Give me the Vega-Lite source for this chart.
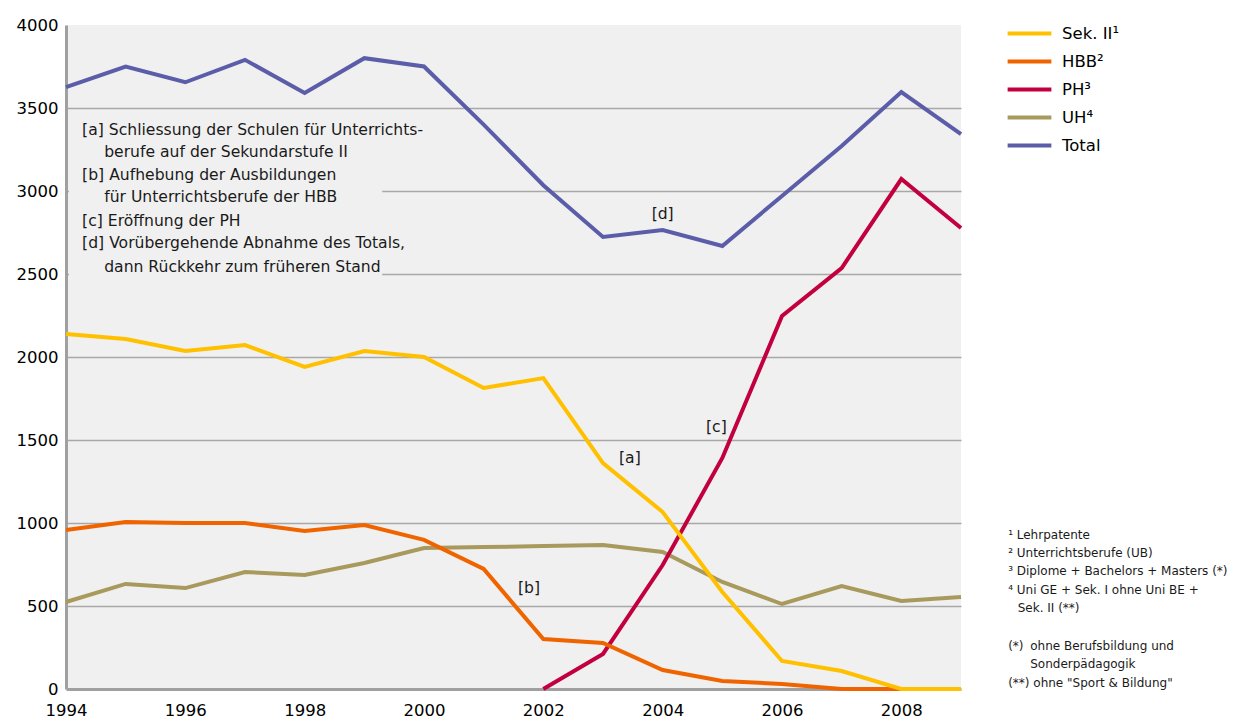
{
  "$schema": "https://vega.github.io/schema/vega-lite/v6.json",
  "width": 895,
  "height": 664,
  "autosize": "none",
  "padding": {"left": 66, "top": 25, "right": 298, "bottom": 31},
  "background": "white",
  "config": {
    "font": "DejaVu Sans",
    "view": {"fill": "#f0f0f0", "stroke": null}
  },
  "datasets": {
    "series": [
      {"year": 1994, "series": "Total", "value": 3626},
      {"year": 1995, "series": "Total", "value": 3750},
      {"year": 1996, "series": "Total", "value": 3655},
      {"year": 1997, "series": "Total", "value": 3790},
      {"year": 1998, "series": "Total", "value": 3590},
      {"year": 1999, "series": "Total", "value": 3800},
      {"year": 2000, "series": "Total", "value": 3750},
      {"year": 2001, "series": "Total", "value": 3400},
      {"year": 2002, "series": "Total", "value": 3035},
      {"year": 2003, "series": "Total", "value": 2723},
      {"year": 2004, "series": "Total", "value": 2765},
      {"year": 2005, "series": "Total", "value": 2669},
      {"year": 2006, "series": "Total", "value": 2970},
      {"year": 2007, "series": "Total", "value": 3271},
      {"year": 2008, "series": "Total", "value": 3596},
      {"year": 2009, "series": "Total", "value": 3343},
      {"year": 1994, "series": "UH⁴", "value": 524},
      {"year": 1995, "series": "UH⁴", "value": 633},
      {"year": 1996, "series": "UH⁴", "value": 608},
      {"year": 1997, "series": "UH⁴", "value": 705},
      {"year": 1998, "series": "UH⁴", "value": 687},
      {"year": 1999, "series": "UH⁴", "value": 759},
      {"year": 2000, "series": "UH⁴", "value": 849},
      {"year": 2001, "series": "UH⁴", "value": 855},
      {"year": 2002, "series": "UH⁴", "value": 861},
      {"year": 2003, "series": "UH⁴", "value": 867},
      {"year": 2004, "series": "UH⁴", "value": 825},
      {"year": 2005, "series": "UH⁴", "value": 645},
      {"year": 2006, "series": "UH⁴", "value": 512},
      {"year": 2007, "series": "UH⁴", "value": 620},
      {"year": 2008, "series": "UH⁴", "value": 530},
      {"year": 2009, "series": "UH⁴", "value": 554},
      {"year": 2002, "series": "PH³", "value": 0},
      {"year": 2003, "series": "PH³", "value": 211},
      {"year": 2004, "series": "PH³", "value": 747},
      {"year": 2005, "series": "PH³", "value": 1392},
      {"year": 2006, "series": "PH³", "value": 2247},
      {"year": 2007, "series": "PH³", "value": 2536},
      {"year": 2008, "series": "PH³", "value": 3072},
      {"year": 2009, "series": "PH³", "value": 2777},
      {"year": 1994, "series": "HBB²", "value": 958},
      {"year": 1995, "series": "HBB²", "value": 1006},
      {"year": 1996, "series": "HBB²", "value": 1000},
      {"year": 1997, "series": "HBB²", "value": 1000},
      {"year": 1998, "series": "HBB²", "value": 952},
      {"year": 1999, "series": "HBB²", "value": 988},
      {"year": 2000, "series": "HBB²", "value": 898},
      {"year": 2001, "series": "HBB²", "value": 723},
      {"year": 2002, "series": "HBB²", "value": 301},
      {"year": 2003, "series": "HBB²", "value": 277},
      {"year": 2004, "series": "HBB²", "value": 114},
      {"year": 2005, "series": "HBB²", "value": 48},
      {"year": 2006, "series": "HBB²", "value": 30},
      {"year": 2007, "series": "HBB²", "value": 0},
      {"year": 2008, "series": "HBB²", "value": 0},
      {"year": 1994, "series": "Sek. II¹", "value": 2139},
      {"year": 1995, "series": "Sek. II¹", "value": 2108},
      {"year": 1996, "series": "Sek. II¹", "value": 2036},
      {"year": 1997, "series": "Sek. II¹", "value": 2072},
      {"year": 1998, "series": "Sek. II¹", "value": 1940},
      {"year": 1999, "series": "Sek. II¹", "value": 2036},
      {"year": 2000, "series": "Sek. II¹", "value": 2000},
      {"year": 2001, "series": "Sek. II¹", "value": 1813},
      {"year": 2002, "series": "Sek. II¹", "value": 1873},
      {"year": 2003, "series": "Sek. II¹", "value": 1361},
      {"year": 2004, "series": "Sek. II¹", "value": 1066},
      {"year": 2005, "series": "Sek. II¹", "value": 584},
      {"year": 2006, "series": "Sek. II¹", "value": 169},
      {"year": 2007, "series": "Sek. II¹", "value": 108},
      {"year": 2008, "series": "Sek. II¹", "value": 0},
      {"year": 2009, "series": "Sek. II¹", "value": 0}
    ],
    "notes": [
      {"x": 1994.27, "y": 3367, "text": "[a] Schliessung der Schulen für Unterrichts-"},
      {"x": 1994.64, "y": 3235, "text": "berufe auf der Sekundarstufe II"},
      {"x": 1994.27, "y": 3096, "text": "[b] Aufhebung der Ausbildungen"},
      {"x": 1994.64, "y": 2964, "text": "für Unterrichtsberufe der HBB"},
      {"x": 1994.27, "y": 2819, "text": "[c] Eröffnung der PH"},
      {"x": 1994.27, "y": 2687, "text": "[d] Vorübergehende Abnahme des Totals,"},
      {"x": 1994.64, "y": 2542, "text": "dann Rückkehr zum früheren Stand"}
    ],
    "marks": [
      {"x": 2004.0, "y": 2860, "text": "[d]"},
      {"x": 2003.45, "y": 1390, "text": "[a]"},
      {"x": 2004.9, "y": 1578, "text": "[c]"},
      {"x": 2001.76, "y": 608, "text": "[b]"}
    ],
    "foot": [
      {"x": 2009.79, "y": 928, "text": "¹ Lehrpatente"},
      {"x": 2009.79, "y": 819, "text": "² Unterrichtsberufe (UB)"},
      {"x": 2009.79, "y": 711, "text": "³ Diplome + Bachelors + Masters (*)"},
      {"x": 2009.79, "y": 596, "text": "⁴ Uni GE + Sek. I ohne Uni BE +"},
      {"x": 2009.95, "y": 488, "text": "Sek. II (**)"},
      {"x": 2009.79, "y": 259, "text": "(*)"},
      {"x": 2010.16, "y": 259, "text": "ohne Berufsbildung und"},
      {"x": 2010.16, "y": 151, "text": "Sonderpädagogik"},
      {"x": 2009.79, "y": 36, "text": "(**) ohne \"Sport & Bildung\""}
    ],
    "box": [{"x": 1994.05, "x2": 1999.3, "y": 2440, "y2": 3475}]
  },
  "layer": [
    {
      "data": {"name": "box"},
      "mark": {"type": "rect", "fill": "#f0f0f0"},
      "encoding": {
        "x": {"field": "x", "type": "quantitative", "scale": {"domain": [1994, 2009], "nice": false, "zero": false}},
        "x2": {"field": "x2"},
        "y": {"field": "y", "type": "quantitative", "scale": {"domain": [0, 4000], "nice": false}},
        "y2": {"field": "y2"}
      }
    },
    {
      "data": {"name": "series"},
      "mark": {"type": "line", "strokeWidth": 4, "strokeJoin": "miter", "strokeCap": "butt"},
      "encoding": {
        "x": {
          "field": "year", "type": "quantitative",
          "scale": {"domain": [1994, 2009], "nice": false, "zero": false},
          "axis": {
            "title": null, "values": [1994, 1996, 1998, 2000, 2002, 2004, 2006, 2008],
            "format": "d", "grid": false, "ticks": false, "labelFontSize": 16.5,
            "labelColor": "#000000", "labelPadding": 13, "domainColor": "#a0a0a0", "domainWidth": 3,
            "labelFlush": false
          }
        },
        "y": {
          "field": "value", "type": "quantitative",
          "scale": {"domain": [0, 4000], "nice": false},
          "axis": {
            "title": null, "values": [0, 500, 1000, 1500, 2000, 2500, 3000, 3500, 4000],
            "format": "d",
            "grid": true, "gridColor": "#a8a8a8", "gridWidth": 1.5,
            "gridOpacity": {"condition": {"test": "datum.value === 4000 || datum.value === 0", "value": 0}, "value": 1},
            "ticks": false, "labelFontSize": 16.5, "labelColor": "#000000", "labelPadding": 8,
            "domainColor": "#a0a0a0", "domainWidth": 3
          }
        },
        "color": {
          "field": "series", "type": "nominal",
          "scale": {
            "domain": ["Sek. II¹", "HBB²", "PH³", "UH⁴", "Total"],
            "range": ["#ffc000", "#f06400", "#c2003f", "#a89a5c", "#5b5da8"]
          },
          "legend": {
            "title": null, "orient": "none", "legendX": 944, "legendY": -11,
            "symbolType": "M -1.25 0 H 1.25", "symbolSize": 1225, "symbolStrokeWidth": 4,
            "labelFontSize": 16.5, "labelColor": "#000000", "labelOffset": 13, "rowPadding": -7
          }
        }
      }
    },
    {
      "data": {"name": "notes"},
      "mark": {"type": "text", "align": "left", "baseline": "middle", "fontSize": 15.6, "color": "#1a1a1a"},
      "encoding": {
        "x": {"field": "x", "type": "quantitative"},
        "y": {"field": "y", "type": "quantitative"},
        "text": {"field": "text"}
      }
    },
    {
      "data": {"name": "marks"},
      "mark": {"type": "text", "align": "center", "baseline": "middle", "fontSize": 15.6, "color": "#1a1a1a"},
      "encoding": {
        "x": {"field": "x", "type": "quantitative"},
        "y": {"field": "y", "type": "quantitative"},
        "text": {"field": "text"}
      }
    },
    {
      "data": {"name": "foot"},
      "mark": {"type": "text", "align": "left", "baseline": "middle", "fontSize": 12, "color": "#1a1a1a"},
      "encoding": {
        "x": {"field": "x", "type": "quantitative"},
        "y": {"field": "y", "type": "quantitative"},
        "text": {"field": "text"}
      }
    }
  ]
}
